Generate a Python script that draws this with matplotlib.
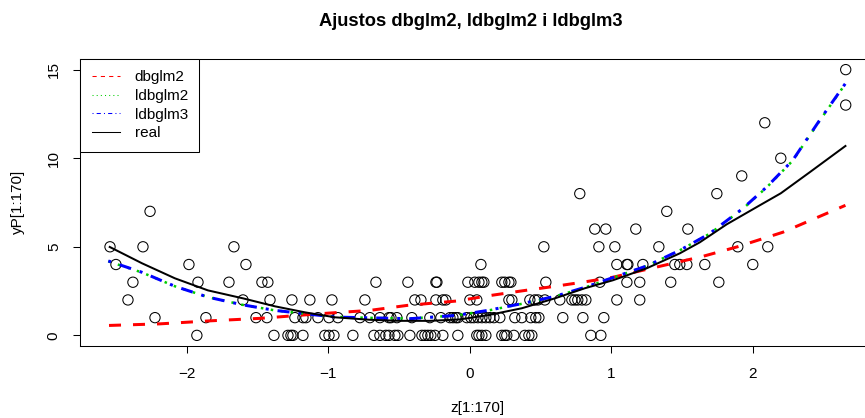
import matplotlib
matplotlib.use("Agg")
import matplotlib.pyplot as plt
from matplotlib.lines import Line2D
import numpy as np

plt.rcParams['font.family'] = ['Liberation Sans', 'DejaVu Sans']

# ---- observed points (z values grouped by observed count y) ----
z_y0 = [-1.93, -1.385, -1.286, -1.265, -1.251, -1.18, -1.025, -0.996, -0.961, -0.827,
        -0.678, -0.636, -0.594, -0.572, -0.53, -0.509, -0.424, -0.339, -0.318, -0.297,
        -0.276, -0.247, -0.191, -0.085, 0.049, 0.064, 0.085, 0.113, 0.226, 0.247,
        0.261, 0.311, 0.389, 0.417, 0.438, 0.855, 0.926]
z_y1 = [-2.226, -1.866, -1.512, -1.435, -1.237, -1.18, -1.159, -1.074, -0.996, -0.933,
        -0.777, -0.707, -0.636, -0.572, -0.558, -0.516, -0.41, -0.283, -0.205, -0.141,
        -0.12, -0.099, -0.085, -0.021, 0.007, 0.028, 0.057, 0.085, 0.113, 0.141,
        0.17, 0.212, 0.318, 0.367, 0.431, 0.466, 0.488, 0.657, 0.799, 0.947]
z_y2 = [-2.417, -1.604, -1.413, -1.258, -1.131, -0.975, -0.742, -0.389, -0.346, -0.24,
        -0.191, -0.17, 0.0, 0.049, 0.276, 0.297, 0.424, 0.459, 0.481, 0.53,
        0.636, 0.721, 0.742, 0.763, 0.792, 0.82, 1.039, 1.201]
z_y3 = [-2.382, -1.922, -1.703, -1.47, -1.428, -0.664, -0.438, -0.24, -0.233, -0.014,
        0.035, 0.064, 0.085, 0.099, 0.226, 0.247, 0.276, 0.29, 0.537, 0.919,
        1.11, 1.201, 1.42, 1.76]
z_y4 = [-2.502, -1.986, -1.583, 0.078, 1.039, 1.11, 1.117, 1.223, 1.449, 1.484,
        1.534, 1.661, 2.0]
z_y5 = [-2.544, -2.311, -1.668, 0.523, 0.912, 1.025, 1.336, 1.894, 2.106]
z_y6 = [0.883, 0.961, 1.173, 1.541]
z_y7 = [-2.261, 1.392]
z_y8 = [0.777, 1.746]
z_y9 = [1.922]
z_y10 = [2.198]
z_y12 = [2.085]
z_y13 = [2.657]
z_y15 = [2.657]

groups = [(0, z_y0), (1, z_y1), (2, z_y2), (3, z_y3), (4, z_y4), (5, z_y5), (6, z_y6),
          (7, z_y7), (8, z_y8), (9, z_y9), (10, z_y10), (12, z_y12), (13, z_y13), (15, z_y15)]
z_obs = [z for y, zs in groups for z in zs]
y_obs = [y for y, zs in groups for z in zs]

# ---- fitted curves ----
z_real = [-2.546, -2.318, -2.085, -1.852, -1.604, -1.378, -1.166, -0.954, -0.707, -0.495,
          -0.283, -0.071, 0.141, 0.367, 0.601, 0.813, 1.011, 1.251, 1.484, 1.625,
          1.816, 2.049, 2.198, 2.403, 2.655]
y_real = [4.99, 4.07, 3.22, 2.54, 2.09, 1.64, 1.30, 1.02, 0.88, 0.82,
          0.82, 0.90, 1.16, 1.53, 2.09, 2.66, 3.11, 3.79, 4.63, 5.25,
          6.27, 7.34, 8.02, 9.21, 10.69]

z_dbglm2 = [-2.551, -2.191, -1.837, -1.484, -1.046, -0.707, -0.445, -0.092, 0.127, 0.367,
            0.601, 0.813, 1.011, 1.322, 1.647, 1.887, 2.212, 2.655]
y_dbglm2 = [0.56, 0.65, 0.82, 0.96, 1.23, 1.41, 1.69, 1.94, 2.23, 2.51,
            2.77, 3.02, 3.28, 3.86, 4.46, 4.99, 5.82, 7.34]

z_ldbglm2 = [-2.556, -2.318, -2.085, -1.852, -1.611, -1.378, -1.131, -0.94, -0.707, -0.424,
             -0.092, 0.127, 0.367, 0.601, 0.813, 1.011, 1.251, 1.484, 1.696, 1.929,
             2.099, 2.283, 2.473, 2.655]
y_ldbglm2 = [4.18, 3.55, 2.77, 2.16, 1.73, 1.41, 1.19, 1.04, 0.99, 0.95,
             1.13, 1.40, 1.78, 2.19, 2.70, 3.25, 3.92, 4.80, 5.74, 7.14,
             8.36, 9.87, 12.12, 14.20]

z_ldbglm3 = [-2.556, -2.318, -2.085, -1.852, -1.611, -1.378, -1.131, -0.94, -0.707, -0.424,
             -0.092, 0.127, 0.367, 0.601, 0.813, 1.011, 1.251, 1.484, 1.696, 1.929,
             2.099, 2.283, 2.473, 2.655]
y_ldbglm3 = [4.20, 3.56, 2.77, 2.16, 1.73, 1.41, 1.19, 1.03, 0.99, 0.94,
             1.13, 1.41, 1.79, 2.20, 2.71, 3.26, 3.92, 4.80, 5.75, 7.16,
             8.38, 9.89, 12.15, 14.22]

x_ticks = [-2, -1, 0, 1, 2]
y_ticks = [0, 5, 10, 15]

W, H = 865, 418
FS = 11.0
FS_TITLE = 13.2
fig = plt.figure(figsize=(W / 100, H / 100), dpi=100)
ax = fig.add_axes([80.3 / W, (H - 346) / H, (875 - 80.3) / W, (346 - 59) / H])

ax.scatter(z_obs, y_obs, s=7.4 ** 2, facecolors='none', edgecolors='black',
           linewidths=0.75, zorder=2)

px = 72 / 100  # points per pixel
ax.plot(z_dbglm2, y_dbglm2, color='#FF0000', lw=3 * px, dashes=(4, 4), zorder=3)
ax.plot(z_ldbglm2, y_ldbglm2, color='#00CD00', lw=2.5 * px, dashes=(1, 3), zorder=3)
ax.plot(z_ldbglm3, y_ldbglm3, color='#0000FF', lw=3 * px, dashes=(1, 3, 4, 3), zorder=4)
ax.plot(z_real, y_real, color='black', lw=2 * px, zorder=5)

ax.set_xlim(-2.754, 2.864)
ax.set_ylim(-0.6, 15.6)
ax.set_xticks(x_ticks)
ax.set_yticks(y_ticks)
ax.set_xticklabels([str(v).replace('-', '\u2212') for v in x_ticks])
ax.set_yticklabels([str(v) for v in y_ticks], rotation=90, va='center')
ax.tick_params(axis='both', length=5.0, width=0.75, labelsize=FS)
ax.tick_params(axis='x', pad=10.0)
ax.tick_params(axis='y', pad=9.0)
for s in ax.spines.values():
    s.set_linewidth(0.75)

handles = [Line2D([], [], color='#FF0000', lw=0.75, dashes=(4, 4)),
           Line2D([], [], color='#00CD00', lw=0.75, dashes=(1, 3)),
           Line2D([], [], color='#0000FF', lw=0.75, dashes=(1, 3, 4, 3)),
           Line2D([], [], color='black', lw=0.75)]
leg = ax.legend(handles, ['dbglm2', 'ldbglm2', 'ldbglm3', 'real'], loc='upper left',
                bbox_to_anchor=(0, 1), borderaxespad=0, fancybox=False,
                edgecolor='black', framealpha=1, fontsize=FS, handlelength=1.85,
                handletextpad=0.95, labelspacing=0.3, borderpad=0.75)
leg.get_frame().set_linewidth(0.75)

fig.text(471 / W, 1 - 22 / H, 'Ajustos dbglm2, ldbglm2 i ldbglm3', ha='center',
         va='center', fontsize=FS_TITLE, fontweight='bold')
fig.text(477 / W, 1 - 408 / H, 'z[1:170]', ha='center', va='center', fontsize=FS)
fig.text(18 / W, 1 - 202 / H, 'yP[1:170]', ha='center', va='center', fontsize=FS,
         rotation=90)

fig.savefig('out.png', dpi=100)
